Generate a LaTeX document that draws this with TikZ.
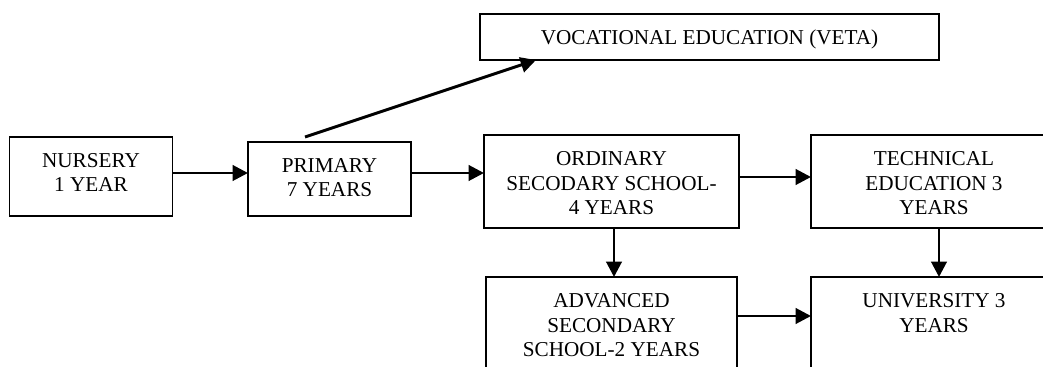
\documentclass[tikz,border=0pt]{standalone}
\usepackage{fontspec}
\setmainfont{Liberation Serif}
\usetikzlibrary{arrows.meta,calc}
\begin{document}
\begin{tikzpicture}[x=0.75pt,y=-0.75pt,
  bx/.style 2 args={draw=black,line width=1.3pt,rectangle,inner sep=0pt,outer sep=0pt,
     minimum width=#1*0.75pt,minimum height=#2*0.75pt},
  lbl/.style={anchor=north,inner sep=0pt,align=center,
     font=\fontsize{15.9pt}{18.4pt}\selectfont},
  arr/.style={line width=2.2pt,-{Triangle[length=11.5pt,width=11.5pt]}}]
\useasboundingbox (0,0) rectangle (1043,367);
\fill[white] (0,0) rectangle (1043,367);
\clip (0,0) rectangle (1043,367);
% boxes
\node[bx={163}{79}]  (nur) at (91,176.5) {};
\node[bx={163}{74}]  (pri) at (329.5,179) {};
\node[bx={255}{93}]  (ord) at (611.5,181.5) {};
\node[bx={459}{46}]  (voc) at (709.5,37) {};
\node[bx={246}{93}]  (tec) at (934,181.5) {};
\node[bx={251}{103}] (adv) at (611.5,328.5) {};
\node[bx={246}{103}] (uni) at (934,328.5) {};
% labels
\node[lbl] (tnur) at ($(nur.north)+(0,16)$) {NURSERY\\1 YEAR};
\node[lbl] (tpri) at ($(pri.north)+(0,16)$) {PRIMARY\\7 YEARS};
\node[lbl] (tord) at ($(ord.north)+(0,16.5)$) {ORDINARY\\SECODARY SCHOOL-\\4 YEARS};
\node[lbl] (tvoc) at ($(voc.north)+(0,15.5)$) {VOCATIONAL EDUCATION (VETA)};
\node[lbl] (ttec) at ($(tec.north)+(0,16.5)$) {TECHNICAL\\EDUCATION 3\\YEARS};
\node[lbl] (tadv) at ($(adv.north)+(0,16.3)$) {ADVANCED\\SECONDARY\\SCHOOL-2 YEARS};
\node[lbl] (tuni) at ($(uni.north)+(0,16.3)$) {UNIVERSITY 3\\YEARS};
% connectors
\coordinate (vs) at ($(pri.north)+(-24.5,-5)$);
\coordinate (ve) at ($(voc.south)+(-173.5,0)$);
\draw[arr] (nur.east |- 0,173) -- (pri.west |- 0,173);
\draw[arr] (pri.east |- 0,173) -- (ord.west |- 0,173);
\draw[arr] (ord.east |- 0,177) -- (tec.west |- 0,177);
\draw[arr] (ord.south -| 614,0) -- (adv.north -| 614,0);
\draw[arr] (tec.south -| 939,0) -- (uni.north -| 939,0);
\draw[arr] (adv.east |- 0,316) -- (uni.west |- 0,316);
\draw[arr] (vs) -- (ve);
\end{tikzpicture}
\end{document}
